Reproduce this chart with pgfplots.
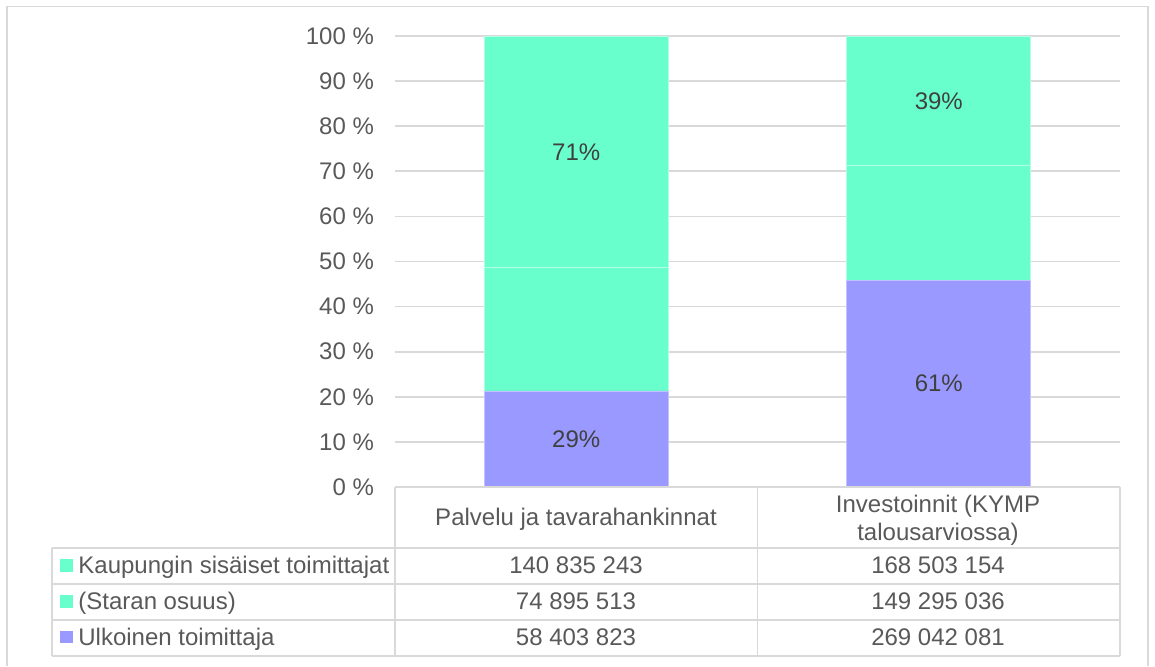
\documentclass[border=0pt]{standalone}
\usepackage{pgfplots}
\pgfplotsset{compat=1.18}
\usepackage{fontspec}
\setmainfont{Liberation Sans}
\definecolor{grn}{RGB}{104,255,204}
\definecolor{pur}{RGB}{153,153,255}
\definecolor{txt}{RGB}{89,89,89}
\definecolor{lbl}{RGB}{64,64,64}
\definecolor{gridc}{RGB}{217,217,217}
\newcommand{\fs}{\fontsize{12}{14}\selectfont}
\begin{document}
\begin{tikzpicture}[x=0.5pt,y=0.5pt]
\path[use as bounding box] (0,0) rectangle (1155,666);
% outer chart border
\draw[gridc, line width=0.8pt] (7,0) -- (7,659.3) -- (1148,659.3) -- (1148,0);

\begin{axis}[
  at={(197.5pt,89.5pt)}, anchor=south west,
  width=362.5pt, height=225.5pt, scale only axis,
  xmin=-0.5, xmax=1.5, ymin=0, ymax=100,
  ybar stacked, bar width=92pt,
  xtick=\empty,
  ytick={0,10,...,100},
  yticklabels={0 \%,10 \%,20 \%,30 \%,40 \%,50 \%,60 \%,70 \%,80 \%,90 \%,100 \%},
  major tick length=0pt,
  axis line style={draw=none},
  ymajorgrids, grid style={gridc, line width=0.85pt},
  yticklabel style={font=\fs, text=txt, xshift=-7pt},
]
% Ulkoinen toimittaja
\addplot[fill=pur, draw=pur!60!white, line width=0.3pt] coordinates {(0,21.305) (1,45.846)};
% (Staran osuus)
\addplot[fill=grn, draw=grn!50!white, line width=0.3pt] coordinates {(0,27.321) (1,25.440)};
% Kaupungin sisaiset toimittajat
\addplot[fill=grn, draw=grn!50!white, line width=0.3pt] coordinates {(0,51.374) (1,28.714)};
\end{axis}

\begin{axis}[
  at={(197.5pt,89.5pt)}, anchor=south west,
  width=362.5pt, height=225.5pt, scale only axis,
  xmin=-0.5, xmax=1.5, ymin=0, ymax=100,
  hide axis,
]
\addplot[draw=none, mark=none, nodes near coords, point meta=explicit symbolic,
  every node near coord/.append style={anchor=center, font=\fs, text=lbl}]
  coordinates {(0,10.65)[29\%] (1,22.92)[61\%] (0,74.31)[71\%] (1,85.64)[39\%]};
\end{axis}

% data table
\begin{scope}[gridc, line width=0.9pt]
\draw (395,179) -- (1120,179);
\draw (52,118) -- (1120,118);
\draw (52,82) -- (1120,82);
\draw (52,46) -- (1120,46);
\draw (52,10) -- (1120,10);
\draw (52,118) -- (52,10);
\draw (395,179) -- (395,10);
\draw (757.5,179) -- (757.5,10);
\draw (1120,179) -- (1120,10);
\end{scope}

\begin{scope}[every node/.style={font=\fs, text=txt, inner sep=0pt}]
\node[anchor=base] at (576,140.3) {Palvelu ja tavarahankinnat};
\node[anchor=base] at (938,154) {Investoinnit (KYMP};
\node[anchor=base] at (938,126) {talousarviossa)};

\fill[grn] (60,94) rectangle (73,107);
\fill[grn] (60,58) rectangle (73,71);
\fill[pur] (60,23) rectangle (73,35);
\node[anchor=base west] at (78,92.5) {Kaupungin sisäiset toimittajat};
\node[anchor=base west] at (78,57) {(Staran osuus)};
\node[anchor=base west] at (78,20.5) {Ulkoinen toimittaja};

\node[anchor=base] at (576,92.5) {140 835 243};
\node[anchor=base] at (576,57) {74 895 513};
\node[anchor=base] at (576,20.5) {58 403 823};
\node[anchor=base] at (938,92.5) {168 503 154};
\node[anchor=base] at (938,57) {149 295 036};
\node[anchor=base] at (938,20.5) {269 042 081};
\end{scope}
\end{tikzpicture}
\end{document}
